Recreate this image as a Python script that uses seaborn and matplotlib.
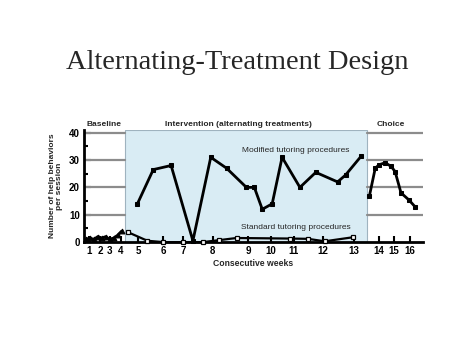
import numpy as np
import pandas as pd
import seaborn as sns
import matplotlib.pyplot as plt

# session positions (school days) and help behaviours per session
base_x = [0.5, 1.5, 2.5, 3.5, 4.5, 5.5, 6.5, 7.5, 8.5, 9.5]
base_y = [1, 1.5, 1, 2, 1.5, 2, 1, 1.5, 2.5, 4]

mod_x = [13.5, 17.5, 22, 27.5, 32, 36, 41, 43, 45, 47.5, 50, 54.5, 58.5, 64, 66, 70]
mod_y = [14, 26.5, 28, 0.5, 31, 27, 20, 20, 12, 14, 31, 20, 25.5, 22, 24.5, 31.5]

std_x = [11, 16, 20, 25, 30, 34, 38.5, 52, 56.5, 60.75, 68]
std_y = [3.7, 0.5, 0, 0, 0, 0.7, 1.5, 1.3, 1.2, 0.3, 1.8]

choice_x = [72, 73.5, 74.5, 76, 77.5, 78.5, 80, 82, 83.5]
choice_y = [16.7, 27, 28.3, 29, 27.7, 25.8, 18, 15.4, 13]

week_pos = [1.25, 4.1, 6.5, 9.25, 13.75, 20, 25, 32.5, 41.5, 47.25, 53, 60.25, 68.2, 74.4, 78.2, 82.3]
week_labels = [str(i) for i in range(1, 17)]

phase_edges = [10.25, 71.5]
x_max = 85.5

sns.set_style("white")
plt.rcParams['font.family'] = ['Liberation Sans', 'DejaVu Sans']

fig = plt.figure(figsize=(4.74, 3.55), dpi=100)
ax = fig.add_axes([0.177, 0.318, 0.715, 0.316])

# phase backgrounds
ax.axvspan(phase_edges[0], phase_edges[1], ymin=0, ymax=1, facecolor='#d9ecf4',
           edgecolor='#9fb3bf', lw=0.8, zorder=0)
for lv in [10, 20, 30, 40]:
    ax.plot([0, phase_edges[0]], [lv, lv], color='#8c8c8c', lw=1.6, zorder=1)
    ax.plot([phase_edges[1], x_max], [lv, lv], color='#8c8c8c', lw=1.6, zorder=1)

base = pd.DataFrame({'x': base_x, 'y': base_y})
mod = pd.DataFrame({'x': mod_x, 'y': mod_y})
std = pd.DataFrame({'x': std_x, 'y': std_y})
cho = pd.DataFrame({'x': choice_x, 'y': choice_y})

kw = dict(color='black', linewidth=2, sort=False, clip_on=False, zorder=3)
sns.lineplot(data=base, x='x', y='y', ax=ax, marker='^', markersize=3.5,
             markeredgecolor='black', **kw)
sns.lineplot(data=mod, x='x', y='y', ax=ax, marker='s', markersize=3.4,
             markeredgecolor='black', **kw)
sns.lineplot(data=std, x='x', y='y', ax=ax, marker='s', markersize=3.2,
             markerfacecolor='white', markeredgecolor='black', markeredgewidth=0.9,
             color='black', linewidth=1.6, sort=False, clip_on=False, zorder=3)
sns.lineplot(data=cho, x='x', y='y', ax=ax, marker='s', markersize=3.2,
             markeredgecolor='black', **kw)

ax.set_xlim(0, x_max)
ax.set_ylim(0, 41)
ax.set_yticks([0, 10, 20, 30, 40])
ax.set_yticks([5, 15, 25, 35], minor=True)
ax.set_xticks(week_pos)
ax.set_xticklabels(week_labels)
ax.tick_params(axis='both', which='both', direction='in', width=1.5, colors='black',
               labelsize=7, pad=3)
ax.tick_params(axis='y', which='major', length=5, left=True)
ax.tick_params(axis='y', which='minor', length=3, left=True)
ax.tick_params(axis='x', which='major', length=4, bottom=True)
for lab in ax.get_xticklabels() + ax.get_yticklabels():
    lab.set_fontweight('bold')

for side in ['top', 'right']:
    ax.spines[side].set_visible(False)
for side in ['left', 'bottom']:
    ax.spines[side].set_color('black')
    ax.spines[side].set_linewidth(2)

ax.set_xlabel('Consecutive weeks', fontsize=6.2, fontweight='bold', labelpad=2)
ax.set_ylabel('Number of help behaviors\nper session', fontsize=6, fontweight='bold',
              labelpad=4, linespacing=1.0)

# phase titles
top_kw = dict(fontsize=6, fontweight='bold', ha='center', va='bottom')
ax.text(phase_edges[0] / 2, 41.6, 'Baseline', **top_kw)
ax.text(39, 41.6, 'Intervention (alternating treatments)', **top_kw)
ax.text(77.5, 41.6, 'Choice', **top_kw)

ax.text(53.5, 33.5, 'Modified tutoring procedures', fontsize=6, ha='center', va='center')
ax.text(53.5, 5.5, 'Standard tutoring procedures', fontsize=6, ha='center', va='center')

fig.text(0.5, 0.825, 'Alternating-Treatment Design', family='Liberation Serif',
         fontsize=20.5, ha='center', va='center')

fig.savefig('out.png', dpi=100)
